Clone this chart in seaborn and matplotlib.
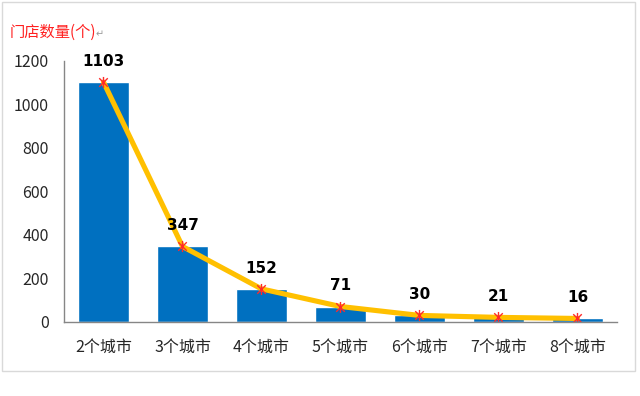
import numpy as np
import pandas as pd
import matplotlib
matplotlib.use('Agg')
import matplotlib.pyplot as plt
from matplotlib.path import Path
from matplotlib.patches import Rectangle
import seaborn as sns

cities = ['2个城市', '3个城市', '4个城市', '5个城市', '6个城市', '7个城市', '8个城市']
stores = [1103, 347, 152, 71, 30, 21, 16]
yticks = [0, 200, 400, 600, 800, 1000, 1200]

sns.set_style('white')
plt.rcParams['font.family'] = ['Noto Sans CJK SC', 'DejaVu Sans']

df = pd.DataFrame({'city': cities, 'stores': stores})

# excel style star marker: an x with a vertical stroke
star = Path([(-1, -1), (1, 1), (-1, 1), (1, -1), (0, -1.3), (0, 1.3)],
            [Path.MOVETO, Path.LINETO, Path.MOVETO, Path.LINETO, Path.MOVETO, Path.LINETO])

fig = plt.figure(figsize=(6.4, 3.96), dpi=100)
ax = fig.add_axes([0.1, 0.187, 0.864, 0.659])

sns.barplot(data=df, x='city', y='stores', color='#0070C0', saturation=1,
            width=0.64, ax=ax)
sns.lineplot(data=df, x='city', y='stores', sort=False, color='#FFC000',
             linewidth=3.7, marker=star, markersize=8, markeredgecolor='#FF2A2A',
             markeredgewidth=1.0, ax=ax)

for i, v in enumerate(stores):
    ax.annotate(str(v), (i, v), xytext=(0, 15), textcoords='offset points',
                ha='center', va='center', fontsize=11, fontweight='bold',
                color='black', family='DejaVu Sans')

ax.set_xlim(-0.5, len(cities) - 0.5)
ax.set_ylim(0, 1200)
ax.set_yticks(yticks)
ax.set_xlabel('')
ax.set_ylabel('')

for s in ['top', 'right']:
    ax.spines[s].set_visible(False)
for s in ['left', 'bottom']:
    ax.spines[s].set_color('#868686')
    ax.spines[s].set_linewidth(1.0)

ax.tick_params(axis='y', length=0, pad=11, labelsize=11.5, labelcolor='#262626')
ax.tick_params(axis='x', which='major', length=0, pad=12, labelsize=11.5, labelcolor='#262626')
ax.set_xticks(np.arange(-0.5, len(cities)), minor=True)
ax.tick_params(axis='x', which='minor', length=4, color='#868686', direction='out')

fig.text(10 / 640, 1 - 32 / 396, '门店数量(个)', color='#FF2020', fontsize=11,
         ha='left', va='center')
fig.text(96 / 640, 1 - 34 / 396, '↵', color='#9A9A9A', fontsize=7,
         ha='left', va='center', family='DejaVu Sans')

fig.patches.append(Rectangle((2 / 640, 1 - 371 / 396), 633 / 640, 369 / 396,
                             transform=fig.transFigure, fill=False,
                             edgecolor='#D9D9D9', linewidth=1.0))

fig.savefig('out.png', dpi=100)
